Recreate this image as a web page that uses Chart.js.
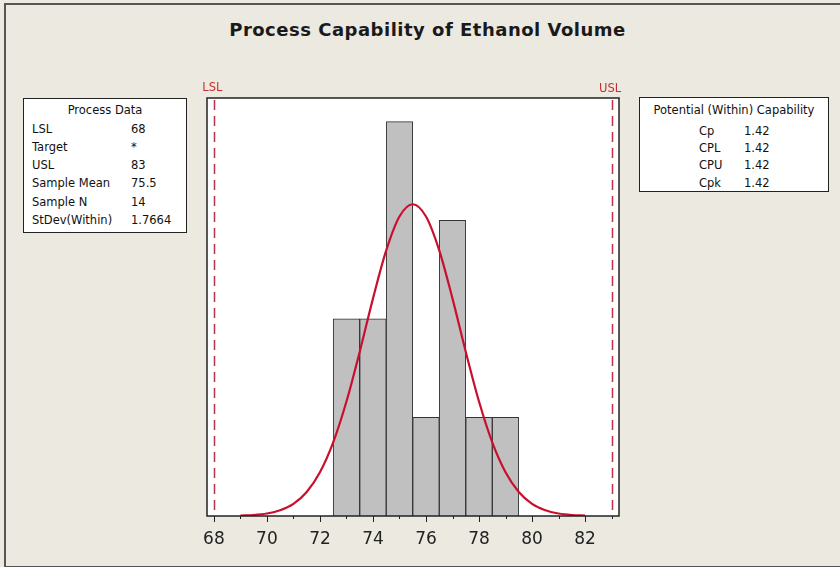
<!DOCTYPE html>
<html>
<head>
<meta charset="utf-8">
<script src="https://cdn.jsdelivr.net/npm/chart.js@4.4.1/dist/chart.umd.min.js"></script>
<style>
  body { margin: 0; background: #ece9e1; }
  #wrap { position: relative; width: 840px; height: 567px; overflow: hidden; font-family: "DejaVu Sans", sans-serif; }
  #frame { position: absolute; left: 4px; top: 3px; width: 840px; height: 561px; border-top: 2px solid #555; border-left: 2px solid #555; border-bottom: 2px solid #555; }
  #title { position: absolute; left: 0; top: 19px; width: 855px; line-height: 22px; text-align: center; font-weight: bold; font-size: 18px; letter-spacing: 0.5px; color: #1a1a1a; }
  canvas { position: absolute; left: 0; top: 0; }
  .box { position: absolute; background: #fff; border: 1.5px solid #222; box-sizing: border-box; font-size: 11.5px; color: #111; }
  .box span { position: absolute; line-height: 16px; white-space: nowrap; }
</style>
</head>
<body>
<div id="wrap">
  <div id="frame"></div>
  <div id="title">Process Capability of Ethanol Volume</div>
  <canvas id="capChart" width="840" height="567"></canvas>
  <div class="box" id="dataBox" style="left:23px; top:98px; width:164px; height:135px;"></div>
  <div class="box" id="capBox" style="left:639px; top:97px; width:190px; height:95px;"></div>
</div>
<script>
// spec limits
var lsl = 68;
var usl = 83;

// histogram (bin width 1)
var binCenters = [73, 74, 75, 76, 77, 78, 79];
var binCounts  = [2, 2, 4, 1, 3, 1, 1];

// fitted normal curve (in counts)
var curveX = [69, 69.5, 70, 70.5, 71, 71.5, 72, 72.5, 73, 73.5, 74, 74.5, 75, 75.5,
              76, 76.5, 77, 77.5, 78, 78.5, 79, 79.5, 80, 80.5, 81, 81.5, 82];
var curveY = [0.004, 0.010, 0.025, 0.058, 0.123, 0.244, 0.444, 0.747, 1.161, 1.666, 2.205, 2.694, 3.038, 3.162,
              3.038, 2.694, 2.205, 1.666, 1.161, 0.747, 0.444, 0.244, 0.123, 0.058, 0.025, 0.010, 0.004];

// side tables
var dataLabels = ['LSL', 'Target', 'USL', 'Sample Mean', 'Sample N', 'StDev(Within)'];
var dataValues = ['68', '*', '83', '75.5', '14', '1.7664'];
var capLabels  = ['Cp', 'CPL', 'CPU', 'Cpk'];
var capValues  = ['1.42', '1.42', '1.42', '1.42'];

function addText(box, text, left, centerY, center) {
    var s = document.createElement('span');
    s.textContent = text;
    s.style.top = (centerY - 8) + 'px';
    if (center) {
        s.style.left = '0';
        s.style.width = '100%';
        s.style.textAlign = 'center';
    } else {
        s.style.left = left + 'px';
    }
    box.appendChild(s);
}

var dataBox = document.getElementById('dataBox');
addText(dataBox, 'Process Data', 0, 11, true);
for (var i = 0; i < dataLabels.length; i++) {
    addText(dataBox, dataLabels[i], 8, 29.5 + i * 18.3);
    addText(dataBox, dataValues[i], 107, 29.5 + i * 18.3);
}

var capBox = document.getElementById('capBox');
addText(capBox, 'Potential (Within) Capability', 0, 11.5, true);
for (var j = 0; j < capLabels.length; j++) {
    addText(capBox, capLabels[j], 59, 32.5 + j * 17.4);
    addText(capBox, capValues[j], 104, 32.5 + j * 17.4);
}

// plot background, frame, tick marks and spec lines
var decorPlugin = {
    id: 'decor',
    beforeDraw: function (chart) {
        var a = chart.chartArea, ctx = chart.ctx;
        ctx.save();
        ctx.fillStyle = '#ffffff';
        ctx.fillRect(a.left, a.top, a.right - a.left, a.bottom - a.top);
        ctx.restore();
    },
    afterDraw: function (chart) {
        var a = chart.chartArea, ctx = chart.ctx, xs = chart.scales.x;
        ctx.save();
        // spec limit lines
        ctx.strokeStyle = '#c0304a';
        ctx.lineWidth = 1.5;
        ctx.setLineDash([10, 6]);
        [lsl, usl].forEach(function (v) {
            var px = Math.round(xs.getPixelForValue(v)) + 0.5;
            ctx.beginPath();
            ctx.moveTo(px, a.top + 2);
            ctx.lineTo(px, a.bottom);
            ctx.stroke();
        });
        ctx.setLineDash([]);
        ctx.fillStyle = '#c83030';
        ctx.font = '11.5px "DejaVu Sans"';
        ctx.textAlign = 'center';
        ctx.textBaseline = 'middle';
        ctx.fillText('LSL', xs.getPixelForValue(lsl) - 1.5, 88);
        ctx.fillText('USL', xs.getPixelForValue(usl) - 1.5, 89);
        // plot frame
        ctx.strokeStyle = '#222';
        ctx.lineWidth = 1.5;
        ctx.strokeRect(a.left, a.top, a.right - a.left, a.bottom - a.top);
        // tick marks: long on even values, short on odd
        ctx.lineWidth = 1;
        for (var v = Math.ceil(xs.min); v <= Math.floor(xs.max); v++) {
            var tx = Math.round(xs.getPixelForValue(v)) + 0.5;
            ctx.beginPath();
            ctx.moveTo(tx, a.bottom);
            ctx.lineTo(tx, a.bottom + (v % 2 === 0 ? 6 : 3));
            ctx.stroke();
        }
        ctx.restore();
    }
};

var ctx = document.getElementById('capChart').getContext('2d');
var myChart = new Chart(ctx, {
    type: 'bar',
    data: {
        datasets: [{
            type: 'line',
            data: curveX.map(function (x, k) { return { x: x, y: curveY[k] }; }),
            borderColor: '#c8102e',
            borderWidth: 2.2,
            pointRadius: 0,
            fill: false,
            cubicInterpolationMode: 'monotone',
            order: 0
        }, {
            type: 'bar',
            data: binCenters.map(function (x, k) { return { x: x, y: binCounts[k] }; }),
            backgroundColor: '#c0c0c0',
            borderColor: '#333333',
            borderWidth: 1,
            barPercentage: 1,
            categoryPercentage: 1,
            order: 1
        }]
    },
    options: {
        responsive: false,
        animation: false,
        devicePixelRatio: 1,
        layout: { padding: { left: 207, right: 221, top: 98, bottom: 0 } },
        plugins: { legend: { display: false }, tooltip: { enabled: false } },
        scales: {
            x: {
                type: 'linear',
                offset: false,
                min: 67.74,
                max: 83.28,
                grid: { display: false, drawTicks: false },
                border: { display: false },
                ticks: {
                    stepSize: 1,
                    includeBounds: false,
                    autoSkip: false,
                    maxRotation: 0,
                    padding: 13,
                    color: '#222',
                    font: { family: 'DejaVu Sans', size: 17 },
                    callback: function (v) { return v % 2 === 0 ? v : ''; }
                },
                afterFit: function (s) { s.height = 51; }
            },
            y: {
                display: false,
                min: 0,
                max: 4.24
            }
        }
    },
    plugins: [decorPlugin]
});
</script>
</body>
</html>
